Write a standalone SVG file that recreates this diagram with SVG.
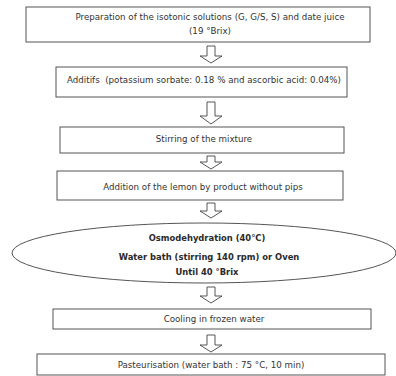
<svg xmlns="http://www.w3.org/2000/svg" width="396" height="376" viewBox="0 0 396 376">
<style>
.box{fill:#fff;stroke:#555;stroke-width:1}
.t{font-family:"DejaVu Sans",Verdana,sans-serif;font-size:8.7px;fill:#333;text-anchor:middle}
.b{font-weight:bold;font-size:8.4px;fill:#2a2a2a}
.arr{fill:#fff;stroke:#444;stroke-width:0.9;stroke-linejoin:miter}
</style>
<rect width="396" height="376" fill="#fff"/>
<g id="connectors">
<path class="arr" d="M207,46 V56 H200 L211,63 L222,56 H215 V46 Z"/>
<path class="arr" d="M207,102 V116 H200 L211,124 L222,116 H215 V102 Z"/>
<path class="arr" d="M207,156 V162 H200 L211,169 L222,162 H215 V156 Z"/>
<path class="arr" d="M207,203 V211 H200 L211,218 L222,211 H215 V203 Z"/>
<path class="arr" d="M207,287 V296 H200 L211,303 L222,296 H215 V287 Z"/>
<path class="arr" d="M207,335 V345 H200 L211,352 L222,345 H215 V335 Z"/>
</g>
<g id="n1">
<rect class="box" x="26" y="7" width="344" height="35"/>
<text class="t" x="210" y="20">Preparation of the isotonic solutions (G, G/S, S) and date juice</text>
<text class="t" x="210" y="34">(19 °Brix)</text>
</g>
<g id="n2">
<rect class="box" x="56" y="67" width="291" height="30"/>
<text class="t" x="204" y="83">Additifs &#160;(potassium sorbate: 0.18 % and ascorbic acid: 0.04%)</text>
</g>
<g id="n3">
<rect class="box" x="60" y="127" width="284" height="26"/>
<text class="t" x="204" y="142">Stirring of the mixture</text>
</g>
<g id="n4">
<rect class="box" x="57" y="171" width="286" height="29"/>
<text class="t" x="203" y="190">Addition of the lemon by product without pips</text>
</g>
<g id="n5">
<ellipse class="box" cx="204" cy="253" rx="192" ry="30"/>
<text class="t b" x="207" y="241">Osmodehydration (40°C)</text>
<text class="t b" x="209" y="260">Water bath (stirring 140 rpm) or Oven</text>
<text class="t b" x="207" y="275">Until 40 °Brix</text>
</g>
<g id="n6">
<rect class="box" x="53" y="309" width="318" height="20"/>
<text class="t" x="214" y="322">Cooling in frozen water</text>
</g>
<g id="n7">
<rect class="box" x="37" y="354" width="348" height="21"/>
<text class="t" x="211" y="368">Pasteurisation (water bath : 75 °C, 10 min)</text>
</g>
</svg>
